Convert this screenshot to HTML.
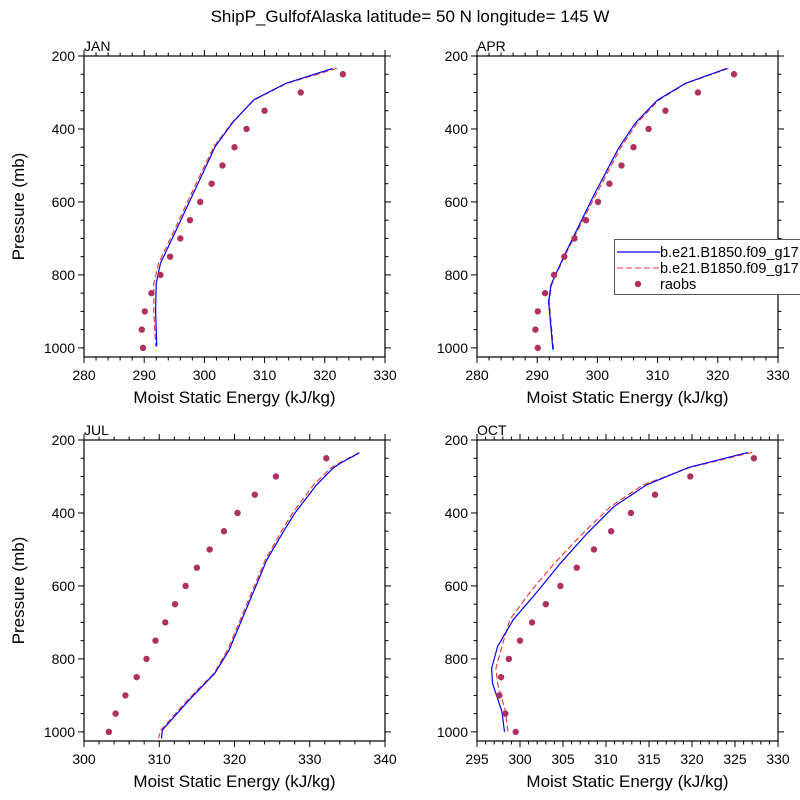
<!DOCTYPE html>
<html><head><meta charset="utf-8"><style>
html,body{margin:0;padding:0;background:#fff;}
svg{display:block;font-family:"Liberation Sans",sans-serif;}
</style></head><body>
<svg id="chart" width="800" height="800" viewBox="0 0 800 800">
<text x="410" y="22" font-size="17" text-anchor="middle">ShipP_GulfofAlaska  latitude= 50 N longitude= 145 W</text>
<g id="plots"></g>
</svg>
<script>
// Data
const panelNames = ["JAN","APR","JUL","OCT"];
const xMins = [280,280,300,295];
const xMaxs = [330,330,340,330];
const xStepMajor = [10,10,10,5];
const xStepMinor = [2,2,2,1];
const yTicks = [200,400,600,800,1000];
const obsP = [250,300,350,400,450,500,550,600,650,700,750,800,850,900,950,1000];
const obsJan = [323,316,310,307,305,303,301.2,299.3,297.6,296,294.3,292.7,291.2,290.1,289.6,289.8];
const obsApr = [322.7,316.7,311.3,308.5,306,304,302,300.1,298.1,296.2,294.5,292.8,291.3,290.1,289.7,290.1];
const obsJul = [332.2,325.5,322.7,320.4,318.6,316.7,315,313.5,312.1,310.8,309.5,308.3,307,305.5,304.2,303.3];
const obsOct = [327.2,319.8,315.7,312.9,310.6,308.6,306.6,304.7,303,301.4,300,298.7,297.8,297.6,298.3,299.5];
const janP = [234,275,320,380,448,540,695,768,823,900,996];
const janBlue = [321.3,313.5,308.2,304.8,301.8,299.2,294.8,292.7,292.0,291.9,292.1];
const janRed = [322.0,313.7,308.3,304.7,301.6,298.9,294.5,292.4,291.6,291.6,291.9];
const aprP = [234,275,322,384,453,585,750,827,873,1005];
const aprBlue = [321.5,314.6,309.9,306.3,303.5,299.3,294.4,292.3,291.9,292.6];
const aprRed = [321.8,314.7,310.1,306.6,303.8,299.6,294.5,292.4,292.0,292.7];
const julP = [235,262,277,323,401,451,528,775,839,912,995,1018];
const julBlue = [336.6,334.2,333.1,330.9,328,326.5,324.3,319.3,317.4,314,310.4,310.3];
const julRed = [336.5,334.0,332.8,330.5,327.7,326.2,324.1,319.1,317.3,313.8,310.2,309.9];
const octP = [234,275,323,383,456,538,616,693,766,826,867,944,1000];
const octBlue = [326.5,319.6,314.7,310.9,307.8,304.7,302,299.2,297.4,296.7,296.8,297.9,298.2];
const octRed = [327.0,319.8,314.3,310.5,307.3,304.0,301.2,298.8,297.9,297.2,297.4,298.3,298.6];
const obsAll = [obsJan,obsApr,obsJul,obsOct];
const blueAll = [janBlue,aprBlue,julBlue,octBlue];
const redAll = [janRed,aprRed,julRed,octRed];
const pAll = [janP,aprP,julP,octP];

const NS="http://www.w3.org/2000/svg";
const root=document.getElementById('plots');
function mk(tag,attrs,parent){const e=document.createElementNS(NS,tag);for(const k in attrs)e.setAttribute(k,attrs[k]);(parent||root).appendChild(e);return e;}
const boxes=[{x:84,y:56},{x:477,y:56},{x:84,y:440},{x:477,y:440}];
const W=301, H=301, pTop=200, pBot=1025;
panelNames.forEach((nm,i)=>{
  const b=boxes[i];
  const g=mk('g',{});
  
  
  const xs=v=>b.x+(v-xMins[i])/(xMaxs[i]-xMins[i])*W;
  const ys=p=>b.y+(p-pTop)/(pBot-pTop)*H;
  for(let v=xMins[i]; v<=xMaxs[i]+1e-9; v+=xStepMinor[i]){
    const maj=Math.abs(((v-xMins[i])/xStepMajor[i])-Math.round((v-xMins[i])/xStepMajor[i]))<1e-6;
    const L=maj?6:3.5;
    mk('line',{x1:xs(v),x2:xs(v),y1:b.y+H,y2:b.y+H+L,stroke:'#000','stroke-width':1},g);
    mk('line',{x1:xs(v),x2:xs(v),y1:b.y,y2:b.y-L,stroke:'#000','stroke-width':1},g);
    if(maj){const t=mk('text',{x:xs(v),y:b.y+H+23,'font-size':14,'text-anchor':'middle'},g);t.textContent=Math.round(v);
      
      }
  }
  for(let p=200;p<=1000;p+=50){
    const maj=p%200===0;const L=maj?6:3.5;
    mk('line',{x1:b.x,x2:b.x-L,y1:ys(p),y2:ys(p),stroke:'#000','stroke-width':1},g);
    mk('line',{x1:b.x+W,x2:b.x+W+L,y1:ys(p),y2:ys(p),stroke:'#000','stroke-width':1},g);
  }
  yTicks.forEach(p=>{const t=mk('text',{x:b.x-9,y:ys(p)+5,'font-size':14,'text-anchor':'end'},g);t.textContent=p;
    
    });
  mk('rect',{x:b.x,y:b.y,width:W,height:H,fill:'none',stroke:'#000','stroke-width':1.2},g);
  const lab=mk('text',{x:b.x,y:b.y-5,'font-size':14},g);lab.textContent=nm;
  
  
  const xt=mk('text',{x:b.x+W/2,y:b.y+H+46,'font-size':17,'text-anchor':'middle'},g);xt.textContent='Moist Static Energy (kJ/kg)';
  
  
  if(i%2===0){const yt=mk('text',{x:0,y:0,'font-size':17,'text-anchor':'middle',transform:`translate(24,${b.y+H/2}) rotate(-90)`},g);yt.textContent='Pressure (mb)';
    
    }
  const pts=arr=>arr.map((v,k)=>xs(v).toFixed(1)+','+ys(pAll[i][k]).toFixed(1)).join(' ');
  const rl=mk('polyline',{points:pts(redAll[i]),fill:'none',stroke:'#f03030','stroke-width':1.1,'stroke-dasharray':'6,3'},g);
  
  
  const bl=mk('polyline',{points:pts(blueAll[i]),fill:'none',stroke:'#0000ff','stroke-width':1.2},g);
  
  
  obsAll[i].forEach((v,k)=>{const c=mk('circle',{cx:xs(v),cy:ys(obsP[k]),r:3.2,fill:'#b03060'},g);
    
    });
});
const lg=mk('g',{});


mk('rect',{x:614.5,y:239.5,width:200,height:55,fill:'#fff',stroke:'#555','stroke-width':1},lg);
mk('line',{x1:617,x2:660,y1:252,y2:252,stroke:'#0000ff','stroke-width':1.2},lg);
mk('line',{x1:617,x2:660,y1:268,y2:268,stroke:'#f03030','stroke-width':1.1,'stroke-dasharray':'6,3'},lg);
mk('circle',{cx:638,cy:284,r:3.2,fill:'#b03060'},lg);
[['b.e21.B1850.f09_g17.CMIP6',257],['b.e21.B1850.f09_g17.CMIP6',273],['raobs',289]].forEach((d,k)=>{
  const t=mk('text',{x:660,y:d[1],'font-size':14.5},lg);t.textContent=d[0];
  
  
});
</script>
</body></html>
